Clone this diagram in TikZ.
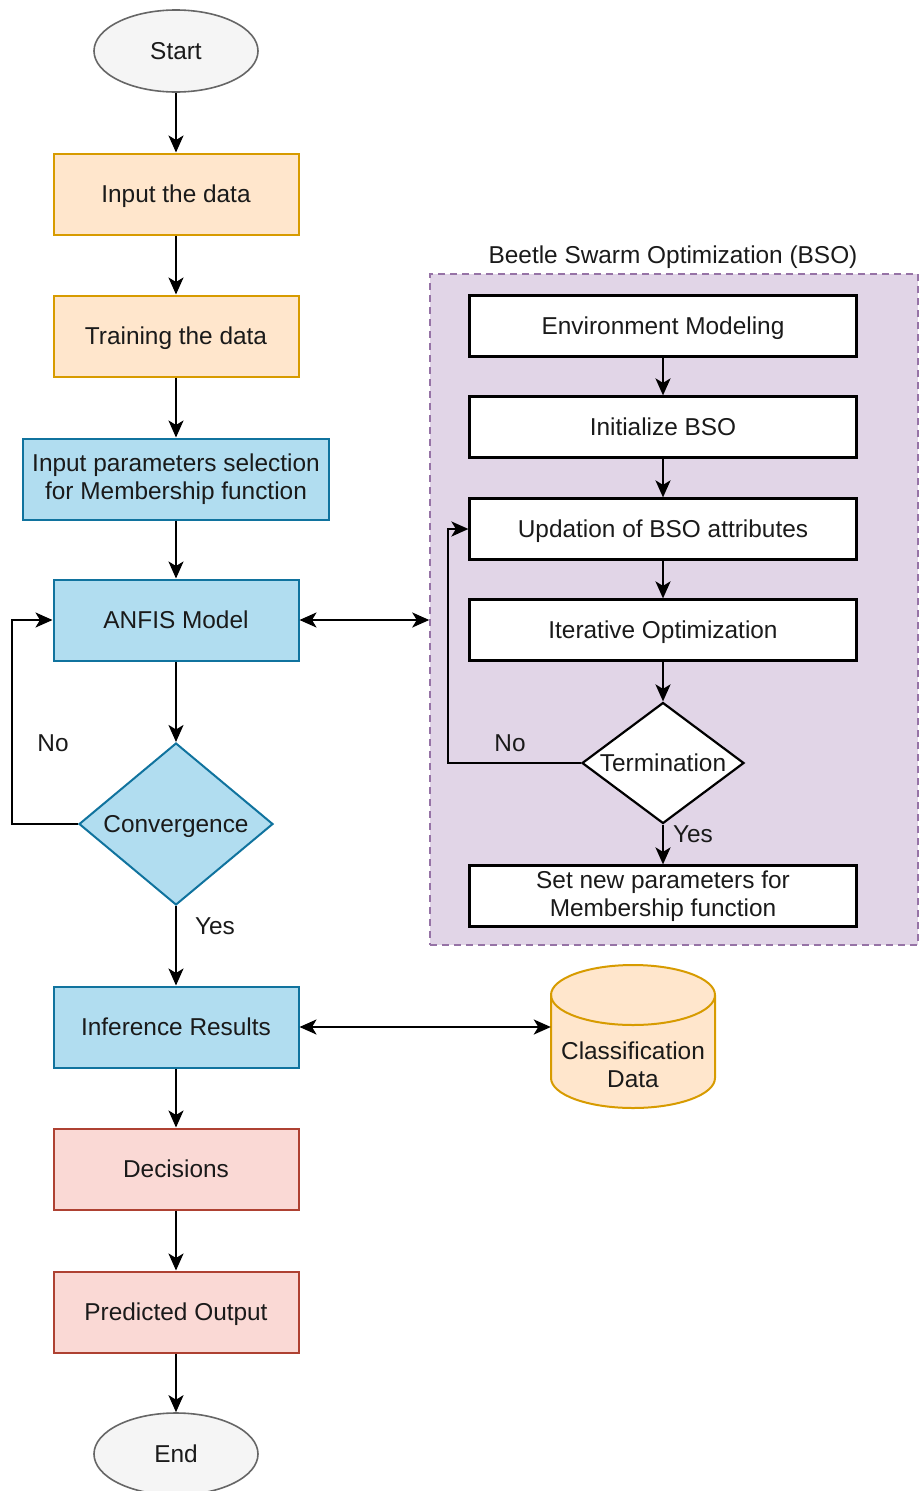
\documentclass[tikz,border=0pt]{standalone}
\usepackage{fontspec}
\setmainfont{Liberation Sans}
\usetikzlibrary{shapes.geometric,arrows.meta}
\definecolor{txtcol}{HTML}{1A1A1A}
\definecolor{orfill}{HTML}{FFE6CC}
\definecolor{ordraw}{HTML}{D79B00}
\definecolor{blfill}{HTML}{B1DDF0}
\definecolor{bldraw}{HTML}{10739E}
\definecolor{rdfill}{HTML}{FAD9D5}
\definecolor{rddraw}{HTML}{AE4132}
\definecolor{gyfill}{HTML}{F5F5F5}
\definecolor{gydraw}{HTML}{666666}
\definecolor{pufill}{HTML}{E1D5E7}
\definecolor{pudraw}{HTML}{9673A6}

\begin{document}
\begin{tikzpicture}[x=1pt,y=-1pt,font=\fontsize{24.4}{28}\selectfont]
    \tikzstyle{every node}+=[inner sep=0pt, text=txtcol, align=center]
    \tikzstyle{oneline}=[text height=17.5pt, text depth=0pt]
    \tikzstyle{term}=[ellipse, oneline, draw=gydraw, fill=gyfill, line width=1.6pt, minimum width=164pt, minimum height=82pt]
    \tikzstyle{box}=[rectangle, line width=2pt, minimum width=245pt, minimum height=81pt]
    \tikzstyle{orbox}=[box, oneline, draw=ordraw, fill=orfill]
    \tikzstyle{blbox}=[box, draw=bldraw, fill=blfill]
    \tikzstyle{rdbox}=[box, oneline, draw=rddraw, fill=rdfill]
    \tikzstyle{bsobox}=[rectangle, draw=black, fill=white, line width=2.2pt, minimum width=387pt, minimum height=61pt]
    \tikzstyle{arr}=[-{Stealth[length=17pt,width=15pt,inset=4.5pt]}, line width=2.3pt, black]
    \tikzstyle{darr}=[{Stealth[length=17pt,width=15pt,inset=4.5pt]}-{Stealth[length=17pt,width=15pt,inset=4.5pt]}, line width=2.3pt, black]
    \useasboundingbox (0,0) rectangle (922,1491);
    % BSO frame
    \node[rectangle, draw=pudraw, fill=pufill, dashed, dash pattern=on 7pt off 5pt, line width=1.5pt, minimum width=488pt, minimum height=671pt] (bso) at (674,609.5) {};
    \node[oneline] (bsotitle) at (673,255) {Beetle Swarm Optimization (BSO)};
    % main chain
    \node[term] (start) at (176,51) {Start};
    \node[orbox] (input) at (176,194) {Input the data};
    \node[orbox] (train) at (176,336) {Training the data};
    \node[blbox, minimum width=306pt] (param) at (176,479) {Input parameters selection\\for Membership function};
    \node[blbox, oneline] (anfis) at (176,620) {ANFIS Model};
    \node[diamond, oneline, draw=bldraw, fill=blfill, line width=2pt, minimum width=194pt, minimum height=162pt, aspect=1.2] (conv) at (176,824) {Convergence};
    \node[blbox, oneline] (infer) at (176,1027) {Inference Results};
    \node[rdbox] (dec) at (176,1169) {Decisions};
    \node[rdbox] (pred) at (176,1312) {Predicted Output};
    \node[term] (end) at (176,1454) {End};
    % BSO steps
    \node[bsobox, oneline] (env) at (663,326) {Environment Modeling};
    \node[bsobox, oneline] (init) at (663,427) {Initialize BSO};
    \node[bsobox, oneline] (upd) at (663,529) {Updation of BSO attributes};
    \node[bsobox, oneline] (iter) at (663,630) {Iterative Optimization};
    \node[diamond, oneline, draw=black, fill=white, line width=2.2pt, minimum width=162pt, minimum height=121pt, aspect=1.34] (stop) at (663,763) {Termination};
    \node[bsobox] (setp) at (663,896) {Set new parameters for\\Membership function};
    % database
    \node[rectangle, minimum width=164pt, minimum height=143pt] (cls) at (633,1036) {};
    \draw[draw=ordraw, fill=orfill, line width=2pt] (551,995) -- (551,1078) arc[start angle=180, end angle=360, x radius=82pt, y radius=30pt] -- (715,995) arc[start angle=0, end angle=180, x radius=82pt, y radius=30pt] -- cycle;
    \draw[draw=ordraw, line width=2pt] (551,995) arc[start angle=180, end angle=360, x radius=82pt, y radius=30pt];
    \node at (633,1065) {Classification\\Data};
    % connectors
    \draw[arr] (start) -- (input);
    \draw[arr] (input) -- (train);
    \draw[arr] (train) -- (param);
    \draw[arr] (param) -- (anfis);
    \draw[arr] (anfis) -- (conv);
    \draw[arr] (conv) -- (infer);
    \draw[arr] (infer) -- (dec);
    \draw[arr] (dec) -- (pred);
    \draw[arr] (pred) -- (end);
    \draw[arr] (conv.west) -- ++(-66,0) |- (anfis.west);
    \draw[darr] (anfis.east) -- (anfis.east -| bso.west);
    \draw[darr] (infer.east) -- (infer.east -| cls.west);
    \draw[arr] (env) -- (init);
    \draw[arr] (init) -- (upd);
    \draw[arr] (upd) -- (iter);
    \draw[arr] (iter) -- (stop);
    \draw[arr] (stop) -- (setp);
    \draw[arr] (stop.west) -- ++(-133,0) |- (upd.west);
    % labels
    \node[oneline] (no1) at (53,743) {No};
    \node[oneline] (yes1) at (215,926) {Yes};
    \node[oneline] (no2) at (510,743) {No};
    \node[oneline] (yes2) at (693,834) {Yes};
\end{tikzpicture}
\end{document}
